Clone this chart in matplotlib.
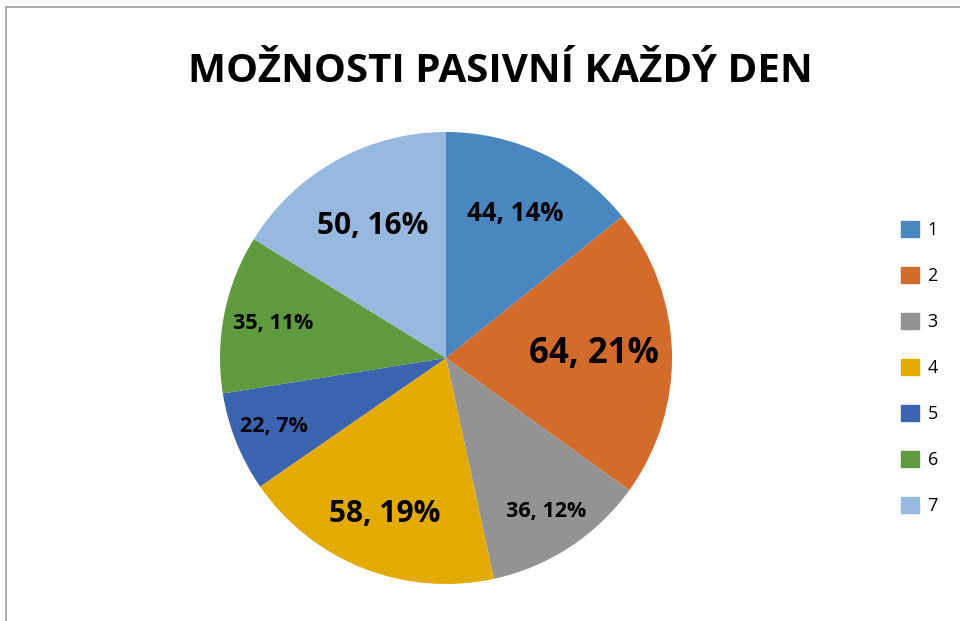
import numpy as np
from matplotlib import pyplot as plt
from matplotlib.lines import Line2D

categories = ['1', '2', '3', '4', '5', '6', '7']
values = [44, 64, 36, 58, 22, 35, 50]
percents = ['14%', '21%', '12%', '19%', '7%', '11%', '16%']
colors = ['#4A86C0', '#D26B2C', '#939393', '#E3AB00', '#3B64B0', '#5F9A3F', '#97B9E0']
label_sizes = [18.5, 25, 15.5, 21.5, 15.5, 15.5, 21.5]
label_dist = [0.71, 0.655, 0.81, 0.74, 0.82, 0.78, 0.67]

fig = plt.figure(figsize=(9.6, 6.21), dpi=100)
plt.rcParams['font.family'] = ['Open Sans', 'DejaVu Sans']

# frame lines (left and top only visible in the reference)
fig.add_artist(Line2D([0.006, 0.006], [0, 0.989], color='#a0a0a0', lw=1.2))
fig.add_artist(Line2D([0.006, 1.0], [0.989, 0.989], color='#a0a0a0', lw=1.2))

fig.text(0.521, 0.885, 'MOŽNOSTI PASIVNÍ KAŽDÝ DEN', ha='center', va='center',
         fontsize=29, fontweight='bold', color='black')

r_px = 226
cx, cy = 446, 621 - 358
ax = fig.add_axes([(cx - r_px) / 960, (cy - r_px) / 621, 2 * r_px / 960, 2 * r_px / 621])
wedges, _ = ax.pie(values, colors=colors, startangle=90, counterclock=False,
                   wedgeprops=dict(linewidth=0))
ax.set_xlim(-1, 1)
ax.set_ylim(-1, 1)
ax.set_aspect('auto')
ax.axis('off')

for w, v, p, s, d in zip(wedges, values, percents, label_sizes, label_dist):
    ang = np.deg2rad((w.theta1 + w.theta2) / 2)
    ax.text(d * np.cos(ang), d * np.sin(ang), '%d, %s' % (v, p), ha='center', va='center',
            fontsize=s, fontweight='bold', color='black')

handles = [plt.Rectangle((0, 0), 1, 1, color=c) for c in colors]
leg = fig.legend(handles, categories, loc='center left', bbox_to_anchor=(0.939, 0.407),
                 frameon=False, fontsize=13, handlelength=0.95, handleheight=0.95,
                 labelspacing=1.55, handletextpad=0.5, borderpad=0, borderaxespad=0)

fig.savefig('out.png', dpi=100)
